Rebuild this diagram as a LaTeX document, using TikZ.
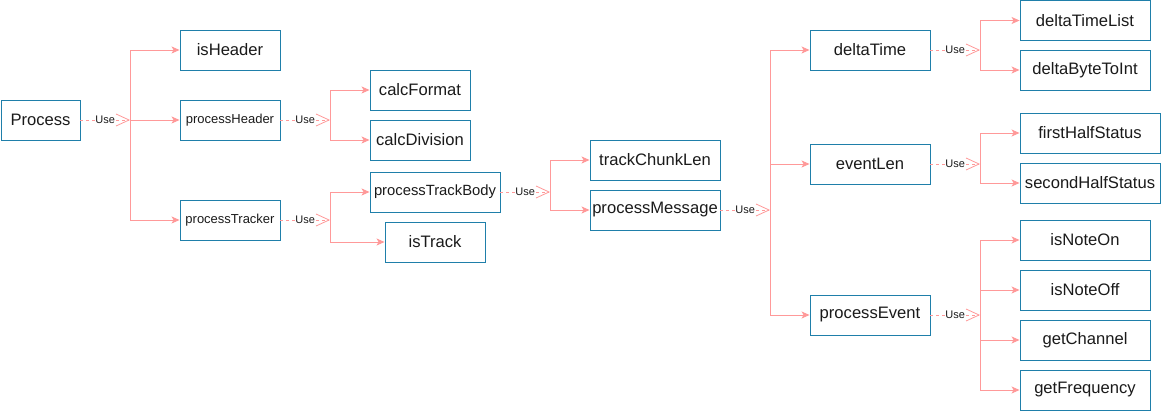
\documentclass[tikz,border=0pt]{standalone}
\usepackage{fontspec}
\setmainfont{Liberation Sans}
\usetikzlibrary{arrows.meta}
\definecolor{boxc}{HTML}{1F7FAA}
\definecolor{linkc}{HTML}{FF9999}
\definecolor{txtc}{HTML}{1A1A1A}
\begin{document}
\begin{tikzpicture}[x=1pt,y=-1pt,
 box/.style={draw=boxc, line width=0.9pt, minimum height=40pt, inner sep=0pt, font=\fontsize{16.6}{18}\selectfont, text=txtc},
 smallbox/.style={box, font=\fontsize{13}{15}\selectfont},
 uselink/.style={draw=linkc, line width=0.8pt, dash pattern=on 3pt off 3pt, -{Straight Barb[length=13pt,width=12pt,line width=0.8pt]}},
 uselbl/.style={font=\fontsize{11}{12}\selectfont, fill=white, inner sep=0.5pt, text=txtc},
 sub/.style={draw=linkc, line width=0.9pt, -{Stealth[length=8pt,width=7pt,inset=2pt]}}
]
\useasboundingbox (0,0) rectangle (1161,411);
% level 0
\node[box, minimum width=79pt] (process) at (40.5,120) {Process};
% level 1
\node[box, minimum width=100pt] (isHeader) at (230,50) {isHeader};
\node[smallbox, minimum width=100pt] (processHeader) at (230,120) {processHeader};
\node[smallbox, minimum width=100pt] (processTracker) at (230,220) {processTracker};
% level 2
\node[box, minimum width=100pt] (calcFormat) at (420,90) {calcFormat};
\node[box, minimum width=100pt] (calcDivision) at (420,140) {calcDivision};
\node[box, minimum width=130pt, font=\fontsize{14.8}{16}\selectfont] (processTrackBody) at (435,192) {processTrackBody};
\node[box, minimum width=100pt] (isTrack) at (435,242) {isTrack};
% level 3
\node[box, minimum width=130pt] (trackChunkLen) at (655,160) {trackChunkLen};
\node[box, minimum width=130pt] (processMessage) at (655,210) {processMessage};
% level 4
\node[box, minimum width=120pt] (deltaTime) at (870,50) {deltaTime};
\node[box, minimum width=120pt] (eventLen) at (870,164) {eventLen};
\node[box, minimum width=120pt] (processEvent) at (870,315) {processEvent};
% level 5
\node[box, minimum width=130pt] (deltaTimeList) at (1085,20.5) {deltaTimeList};
\node[box, minimum width=130pt] (deltaByteToInt) at (1085,70) {deltaByteToInt};
\node[box, minimum width=140pt] (firstHalfStatus) at (1090,133) {firstHalfStatus};
\node[box, minimum width=140pt] (secondHalfStatus) at (1090,183) {secondHalfStatus};
\node[box, minimum width=130pt] (isNoteOn) at (1085,240) {isNoteOn};
\node[box, minimum width=130pt] (isNoteOff) at (1085,290) {isNoteOff};
\node[box, minimum width=130pt] (getChannel) at (1085,340) {getChannel};
\node[box, minimum width=130pt] (getFrequency) at (1085,390) {getFrequency};
% trunks
\coordinate (tProcess) at (130,120);
\coordinate (tHeader) at (330,120);
\coordinate (tTracker) at (330,220);
\coordinate (tBody) at (550,192);
\coordinate (tMessage) at (770,210);
\coordinate (tDelta) at (980,50);
\coordinate (tEvLen) at (980,164);
\coordinate (tEvent) at (980,315);
% Process
\draw[uselink] (process.east) -- node[uselbl]{Use} (tProcess);
\draw[sub] (tProcess) |- (isHeader.west);
\draw[sub] (tProcess) |- (processHeader.west);
\draw[sub] (tProcess) |- (processTracker.west);
% processHeader
\draw[uselink] (processHeader.east) -- node[uselbl]{Use} (tHeader);
\draw[sub] (tHeader) |- (calcFormat.west);
\draw[sub] (tHeader) |- (calcDivision.west);
% processTracker
\draw[uselink] (processTracker.east) -- node[uselbl]{Use} (tTracker);
\draw[sub] (tTracker) |- (processTrackBody.west);
\draw[sub] (tTracker) |- (isTrack.west);
% processTrackBody
\draw[uselink] (processTrackBody.east) -- node[uselbl]{Use} (tBody);
\draw[sub] (tBody) |- (trackChunkLen.west);
\draw[sub] (tBody) |- (processMessage.west);
% processMessage
\draw[uselink] (processMessage.east) -- node[uselbl]{Use} (tMessage);
\draw[sub] (tMessage) |- (deltaTime.west);
\draw[sub] (tMessage) |- (eventLen.west);
\draw[sub] (tMessage) |- (processEvent.west);
% deltaTime
\draw[uselink] (deltaTime.east) -- node[uselbl]{Use} (tDelta);
\draw[sub] (tDelta) |- (deltaTimeList.west);
\draw[sub] (tDelta) |- (deltaByteToInt.west);
% eventLen
\draw[uselink] (eventLen.east) -- node[uselbl]{Use} (tEvLen);
\draw[sub] (tEvLen) |- (firstHalfStatus.west);
\draw[sub] (tEvLen) |- (secondHalfStatus.west);
% processEvent
\draw[uselink] (processEvent.east) -- node[uselbl]{Use} (tEvent);
\draw[sub] (tEvent) |- (isNoteOn.west);
\draw[sub] (tEvent) |- (isNoteOff.west);
\draw[sub] (tEvent) |- (getChannel.west);
\draw[sub] (tEvent) |- (getFrequency.west);
\end{tikzpicture}
\end{document}
